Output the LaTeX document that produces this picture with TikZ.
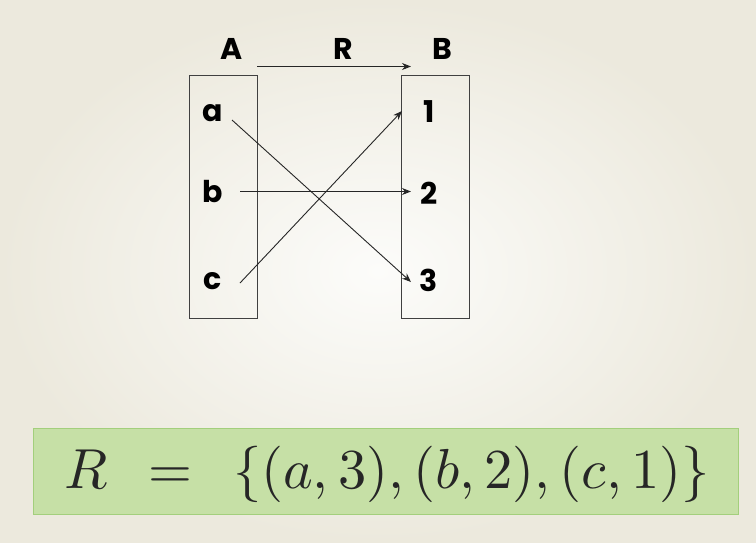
\documentclass[tikz,border=0pt]{standalone}
\usepackage{fontspec}
\usepackage{amsmath}
\usepackage{graphicx}
\newfontfamily\lblfont{Poppins Bold}
\usetikzlibrary{arrows.meta}
\definecolor{bgin}{HTML}{FCFCFA}
\definecolor{bgout}{HTML}{ECE9DD}
\definecolor{gfill}{HTML}{C6E0A6}
\definecolor{gline}{HTML}{A3CF7C}
\tikzset{
  setbox/.style={draw=black!75, line width=0.8pt},
  lbl/.style={font=\fontsize{30}{32}\lblfont, inner sep=0pt, anchor=center},
  rel/.style={draw=black!85, line width=0.9pt, -{Stealth[length=9pt,width=7pt]}}
}
\begin{document}
\begin{tikzpicture}[x=1pt,y=-1pt]
\useasboundingbox (0,0) rectangle (756,542);
\shade[inner color=bgin, outer color=bgout] (0,0) rectangle (756,542);
% set boxes
\node[setbox, minimum width=68, minimum height=243, inner sep=0pt] (boxA) at (223,196.5) {};
\node[setbox, minimum width=68, minimum height=243, inner sep=0pt] (boxB) at (435,196.5) {};
% headers
\node[lbl] (A) at (232,49) {A};
\node[lbl] (R) at (343,49) {R};
\node[lbl] (B) at (442,49) {B};
\coordinate (rs) at (257,66.5);
\coordinate (re) at (411,66.5);
\draw[rel] (rs) -- (re);
% elements
\node[lbl] (a) at (213,113) {a};
\node[lbl] (b) at (213,192) {b};
\node[lbl] (c) at (213,281) {c};
\node[lbl] (n1) at (429,112) {1};
\node[lbl] (n2) at (429,193) {2};
\node[lbl] (n3) at (429,280) {3};
\coordinate (as) at (232,120);
\coordinate (ae) at (411,282);
\coordinate (bs) at (240,191.5);
\coordinate (be) at (411,191.5);
\coordinate (cs) at (240,283);
\coordinate (ce) at (402,111);
\draw[rel] (as) -- (ae);
\draw[rel] (bs) -- (be);
\draw[rel] (cs) -- (ce);
% formula box
\node[draw=gline, fill=gfill, line width=1pt, minimum width=705, minimum height=86, inner sep=0pt] (fbox) at (385.5,471) {};
\node[inner sep=0pt, text=black!85] (formula) at (387,474) {\resizebox{645pt}{!}{$R\;\,=\;\,\{(a,3),(b,2),(c,1)\}$}};
\end{tikzpicture}
\end{document}
